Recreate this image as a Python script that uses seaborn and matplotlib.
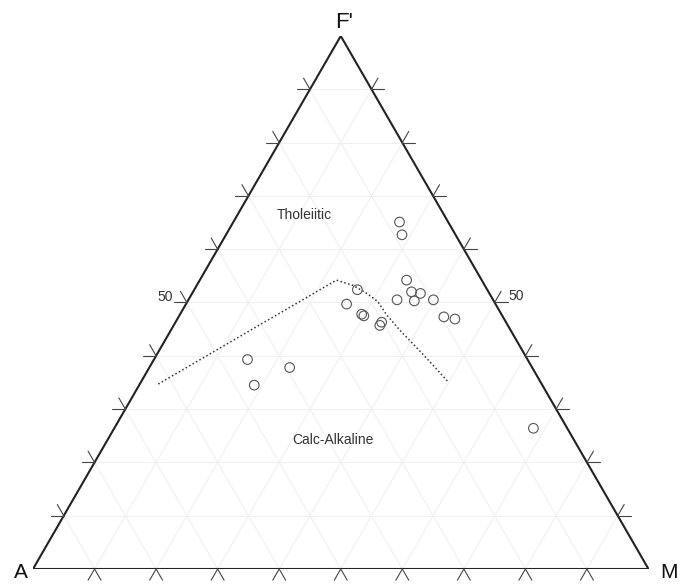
import numpy as np
import pandas as pd
import matplotlib
matplotlib.use("Agg")
import matplotlib.pyplot as plt
import seaborn as sns

# ---- data (ternary compositions in %, A - F' - M) ----
sample_A = [7.9, 8.7, 12.2, 12.5, 11.2, 15.6, 12.9, 9.7, 9.6, 8.0,
            21.1, 24.2, 22.7, 22.5, 20.2, 20.8, 45.5, 39.4, 46.8, 5.5]
sample_F = [65.1, 62.7, 54.2, 52.0, 51.7, 50.5, 50.3, 50.5, 47.3, 46.9,
            52.4, 49.7, 47.8, 47.5, 46.3, 45.7, 39.3, 37.8, 34.5, 26.4]
sample_M = [27.0, 28.6, 33.6, 35.5, 37.1, 33.9, 36.8, 39.8, 43.1, 45.1,
            26.5, 26.1, 29.5, 30.0, 33.5, 33.5, 15.2, 22.8, 18.7, 68.1]

# Tholeiitic / Calc-Alkaline boundary
line_A = [62.3, 23.6, 21.4, 19.9, 18.9, 18.7, 18.0, 16.9, 15.9, 15.0]
line_F = [34.7, 54.2, 53.2, 51.7, 50.2, 47.7, 44.8, 41.5, 38.3, 35.1]
line_M = [3.0, 22.2, 25.4, 28.4, 30.9, 33.6, 37.2, 41.6, 45.8, 49.9]

vertex_labels = ["A", "F'", "M"]
grid_levels = [10, 20, 30, 40, 50, 60, 70, 80, 90]
axis_label_level = 50
field_labels = ["Tholeiitic", "Calc-Alkaline"]

S3 = np.sqrt(3) / 2


def tern(a, f, m):
    a = np.asarray(a, float); f = np.asarray(f, float); m = np.asarray(m, float)
    t = a + f + m
    return (m + f / 2) / t, f * S3 / t


sns.set_theme(style="white")
plt.rcParams['font.family'] = ['Liberation Sans', 'DejaVu Sans']

fig = plt.figure(figsize=(6.87, 5.84), dpi=100)
ax = fig.add_axes([33 / 687, 15 / 584, 615.5 / 687, 533 / 584])
ax.set_xlim(0, 1)
ax.set_ylim(0, S3)
ax.axis('off')

# light grid
for g in grid_levels:
    r = 100 - g
    for seg in [((r, g, 0), (0, g, r)),   # constant F
                ((r, 0, g), (0, r, g)),   # constant M
                ((g, r, 0), (g, 0, r))]:  # constant A
        x, y = tern(*zip(*seg))
        ax.plot(x, y, color="#f0f0f0", lw=0.8, zorder=1)

# triangle frame
fx, fy = tern([100, 0, 0, 100], [0, 100, 0, 0], [0, 0, 100, 0])
ax.plot(fx, fy, color="#222222", lw=1.5, zorder=3, solid_joinstyle='miter')

# outer ticks (gridline extensions)
L = 0.021
dirs = {
    'left': [(-1, 0), (-0.5, S3)],
    'right': [(1, 0), (0.5, S3)],
    'bottom': [(-0.5, -S3), (0.5, -S3)],
}
for g in grid_levels:
    pts = {
        'left': tern(100 - g, g, 0),
        'right': tern(0, g, 100 - g),
        'bottom': tern(100 - g, 0, g),
    }
    for side, (px, py) in pts.items():
        for dx, dy in dirs[side]:
            ax.plot([px, px + L * dx], [py, py + L * dy], color="#444444",
                    lw=0.8, zorder=3, clip_on=False)

# "50" labels
lx, ly = tern(100 - axis_label_level, axis_label_level, 0)
ax.annotate(str(axis_label_level), (lx, ly), xytext=(-14 * 0.72, 5.5 * 0.72),
            textcoords='offset points', ha='right', va='center',
            fontsize=10, color="#333333")
rx, ry = tern(0, axis_label_level, 100 - axis_label_level)
ax.annotate(str(axis_label_level), (rx, ry), xytext=(13.5 * 0.72, 6.5 * 0.72),
            textcoords='offset points', ha='left', va='center',
            fontsize=10, color="#333333")

# vertex labels
ax_, ay_ = tern(100, 0, 0)
ax.annotate(vertex_labels[0], (ax_, ay_), xytext=(-12 * 0.72, -9 * 0.72),
            textcoords='offset points', ha='center', va='baseline',
            fontsize=15, color="#111111", annotation_clip=False)
fx_, fy_ = tern(0, 100, 0)
ax.annotate(vertex_labels[1], (fx_, fy_), xytext=(3 * 0.72, 8 * 0.72),
            textcoords='offset points', ha='center', va='baseline',
            fontsize=16, color="#111111", annotation_clip=False)
mx_, my_ = tern(0, 0, 100)
ax.annotate(vertex_labels[2], (mx_, my_), xytext=(20.5 * 0.72, -9 * 0.72),
            textcoords='offset points', ha='center', va='baseline',
            fontsize=15, color="#111111", annotation_clip=False)

# field labels
ax.text(0.4411, 0.5751, field_labels[0], ha='center', va='center',
        fontsize=10, color="#333333")
ax.text(0.4874, 0.2096, field_labels[1], ha='center', va='center',
        fontsize=10, color="#333333")

# boundary line
bx, by = tern(line_A, line_F, line_M)
bdf = pd.DataFrame({"x": bx, "y": by})
sns.lineplot(data=bdf, x="x", y="y", sort=False, ax=ax, color="#333333",
             lw=1.1, linestyle=(0, (1, 1.6)), zorder=4, estimator=None)

# samples
sx, sy = tern(sample_A, sample_F, sample_M)
sdf = pd.DataFrame({"x": sx, "y": sy})
sns.scatterplot(data=sdf, x="x", y="y", ax=ax, marker='o', s=48,
                facecolor='none', edgecolor="#555555", linewidth=0.8, zorder=5)

ax.set_xlim(0, 1)
ax.set_ylim(0, S3)
ax.axis('off')

fig.savefig("out.png", dpi=100)
